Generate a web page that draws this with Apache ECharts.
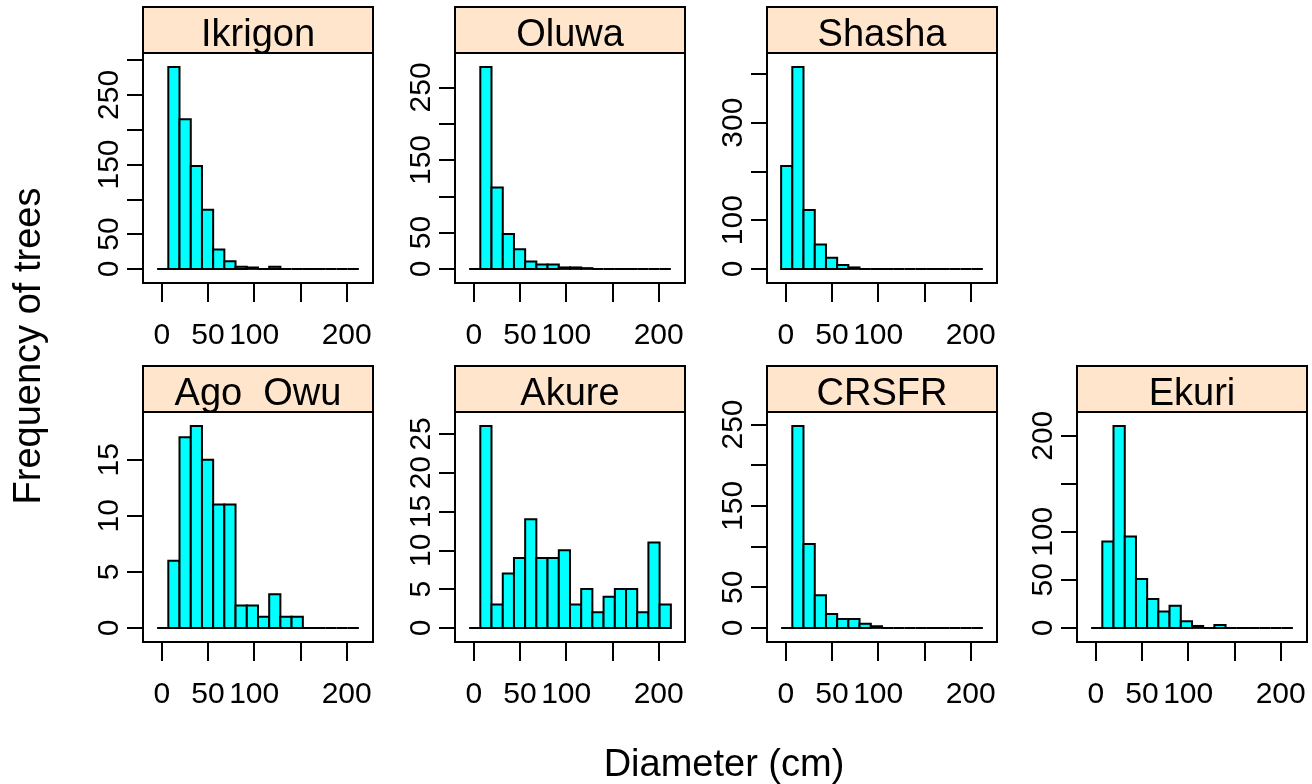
<!DOCTYPE html>
<html>
<head>
<meta charset="utf-8">
<script src="https://cdn.jsdelivr.net/npm/echarts@6/dist/echarts.min.js"></script>
<style>
  html, body { margin: 0; padding: 0; background: #fff; }
  #chart { width: 1312px; height: 784px; }
</style>
</head>
<body>
<div id="chart"></div>
<script>
// histogram breaks (cm), shared by all panels
const breaks = [-5, 7.1, 19.2, 31.4, 43.5, 55.6, 67.7, 79.8, 92.0, 104.1, 116.2, 128.3, 140.4, 152.6, 164.7, 176.8, 188.9, 201.0, 213.2];

// tree counts per bin
const ikrigon = [0, 290, 215, 148, 85, 28, 11, 3, 2, 0, 3, 0, 0, 0, 0, 0, 0, 0];
const oluwa   = [0, 278, 112, 48, 27, 10, 6, 6, 2, 2, 1, 0, 0, 0, 0, 0, 0, 0];
const shasha  = [211, 414, 121, 50, 23, 8, 3, 0, 0, 0, 0, 0, 0, 0, 0, 0, 0, 0];
const agoOwu  = [0, 6, 17, 18, 15, 11, 11, 2, 2, 1, 3, 1, 1, 0, 0, 0, 0, 0];
const akure   = [0, 26, 3, 7, 9, 14, 9, 9, 10, 3, 5, 2, 4, 5, 5, 2, 11, 3];
const crsfr   = [0, 248, 103, 40, 17, 11, 11, 5, 2, 0, 0, 0, 0, 0, 0, 0, 0, 0];
const ekuri   = [0, 90, 210, 95, 51, 30, 17, 23, 7, 2, 0, 3, 0, 0, 0, 0, 0, 0];

const panelNames = ['Ikrigon', 'Oluwa', 'Shasha', 'Ago  Owu', 'Akure', 'CRSFR', 'Ekuri'];
const panelCounts = [ikrigon, oluwa, shasha, agoOwu, akure, crsfr, ekuri];

// y ticks and the labels R kept after dropping overlaps
const yTicks = [
  [0, 50, 100, 150, 200, 250, 300],
  [0, 50, 100, 150, 200, 250],
  [0, 100, 200, 300, 400],
  [0, 5, 10, 15],
  [0, 5, 10, 15, 20, 25],
  [0, 50, 100, 150, 200, 250],
  [0, 50, 100, 150, 200],
];
const yLabels = [
  [0, 50, 150, 250],
  [0, 50, 150, 250],
  [0, 100, 300],
  [0, 5, 10, 15],
  [0, 5, 10, 15, 20, 25],
  [0, 50, 150, 250],
  [0, 50, 100, 200],
];
const xTicks = [0, 50, 100, 150, 200];
const xLabels = [0, 50, 100, 200];

// layout (px)
const colLeft = [143, 455, 767, 1077];
const rowTop = [53, 412];
const panelCell = [[0, 0], [0, 1], [0, 2], [1, 0], [1, 1], [1, 2], [1, 3]];
const boxW = 230;
const boxH = 230;
const stripH = 46;
const FONT = '"Liberation Sans", Arial, sans-serif';

const xSpan = breaks[breaks.length - 1] - breaks[0];
const xMin = breaks[0] - 0.07 * xSpan;
const xMax = breaks[breaks.length - 1] + 0.07 * xSpan;

const grids = [];
const xAxes = [];
const yAxes = [];
const series = [];
const graphics = [];

panelNames.forEach((name, i) => {
  const [row, col] = panelCell[i];
  const left = colLeft[col];
  const top = rowTop[row];
  const counts = panelCounts[i];
  const peak = Math.max(...counts);

  grids.push({
    left: left, top: top, width: boxW, height: boxH,
    show: true, borderColor: '#000', borderWidth: 2, backgroundColor: '#fff',
  });

  xAxes.push({
    type: 'value', gridIndex: i, min: xMin, max: xMax,
    axisLine: { show: false, onZero: false },
    splitLine: { show: false },
    axisTick: { show: true, length: 19, customValues: xTicks, lineStyle: { color: '#000', width: 2 } },
    axisLabel: {
      customValues: xLabels, margin: 38, color: '#000',
      fontFamily: FONT, fontSize: 30,
    },
  });

  yAxes.push({
    type: 'value', gridIndex: i, min: -0.07 * peak, max: 1.07 * peak,
    axisLine: { show: false, onZero: false },
    splitLine: { show: false },
    axisTick: { show: true, length: 16, customValues: yTicks[i], lineStyle: { color: '#000', width: 2 } },
    axisLabel: {
      customValues: yLabels[i], rotate: 90, margin: 18, color: '#000',
      fontFamily: FONT, fontSize: 30,
    },
  });

  series.push({
    type: 'custom',
    xAxisIndex: i,
    yAxisIndex: i,
    encode: { x: [0, 1], y: 2 },
    data: counts.map((c, k) => [breaks[k], breaks[k + 1], c]),
    renderItem: (params, api) => {
      const a = api.coord([api.value(0), api.value(2)]);
      const b = api.coord([api.value(1), 0]);
      return {
        type: 'rect',
        shape: { x: a[0], y: a[1], width: b[0] - a[0], height: b[1] - a[1] },
        style: { fill: '#00FFFF', stroke: '#000', lineWidth: 2 },
      };
    },
  });

  // strip above each panel
  graphics.push({
    type: 'rect',
    shape: { x: left, y: top - stripH, width: boxW, height: stripH },
    style: { fill: '#FFE5CC', stroke: '#000', lineWidth: 2 },
  });
  graphics.push({
    type: 'text',
    x: left + boxW / 2,
    y: top - stripH + 29,
    style: {
      text: name, fill: '#000', font: '38px ' + FONT,
      textAlign: 'center', textVerticalAlign: 'middle',
    },
  });
});

graphics.push({
  type: 'text',
  x: 30, y: 346, rotation: Math.PI / 2,
  style: {
    text: 'Frequency of trees', fill: '#000', font: '38px ' + FONT,
    textAlign: 'center', textVerticalAlign: 'middle',
  },
});
graphics.push({
  type: 'text',
  x: 724, y: 766,
  style: {
    text: 'Diameter (cm)', fill: '#000', font: '38px ' + FONT,
    textAlign: 'center', textVerticalAlign: 'middle',
  },
});

const chart = echarts.init(document.getElementById('chart'));
chart.setOption({
  animation: false,
  backgroundColor: '#fff',
  grid: grids,
  xAxis: xAxes,
  yAxis: yAxes,
  series: series,
  graphic: graphics,
});
</script>
</body>
</html>
